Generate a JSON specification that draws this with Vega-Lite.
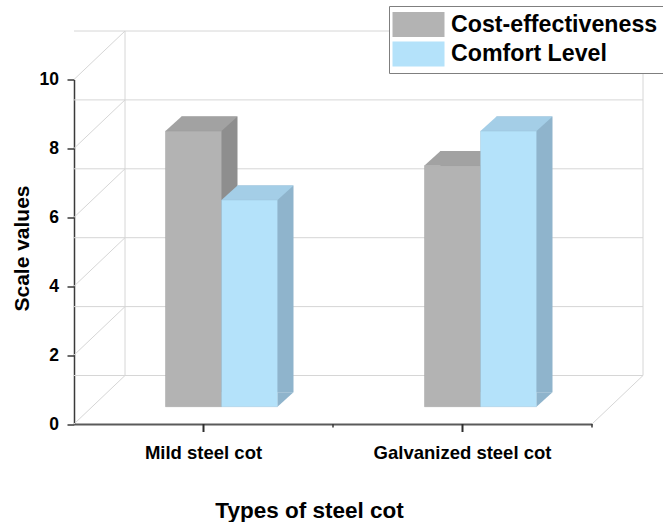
{
  "$schema": "https://vega.github.io/schema/vega-lite/v6.json",
  "width": 518,
  "height": 344.5,
  "autosize": "none",
  "padding": {"left": 74, "top": 79.5, "right": 71, "bottom": 98},
  "background": "white",
  "config": {
    "view": {"stroke": null},
    "font": "Liberation Sans"
  },
  "datasets": {
    "scores": [
      {"cot": "Mild steel cot", "criterion": "Cost-effectiveness", "score": 8},
      {"cot": "Mild steel cot", "criterion": "Comfort Level", "score": 6},
      {"cot": "Galvanized steel cot", "criterion": "Cost-effectiveness", "score": 7},
      {"cot": "Galvanized steel cot", "criterion": "Comfort Level", "score": 8}
    ],
    "levels": [
      {"level": 0}, {"level": 2}, {"level": 4}, {"level": 6}, {"level": 8}, {"level": 10}
    ],
    "anchor": [{}]
  },
  "layer": [
    {
      "description": "back wall grid lines",
      "data": {"name": "levels"},
      "mark": {"type": "rule", "color": "#D6D6D6", "strokeWidth": 1, "xOffset": 51, "x2Offset": 51, "yOffset": -48.5},
      "encoding": {
        "y": {"field": "level", "type": "quantitative"}
      }
    },
    {
      "description": "back wall left edge",
      "data": {"name": "anchor"},
      "mark": {"type": "rule", "color": "#D6D6D6", "strokeWidth": 1, "xOffset": 51, "yOffset": -48.5, "y2Offset": -48.5},
      "encoding": {
        "x": {"datum": "Mild steel cot", "type": "nominal", "bandPosition": 0},
        "y": {"datum": 0, "type": "quantitative"},
        "y2": {"datum": 10}
      }
    },
    {
      "description": "back wall right edge",
      "data": {"name": "anchor"},
      "mark": {"type": "rule", "color": "#D6D6D6", "strokeWidth": 1, "xOffset": 51, "yOffset": -48.5, "y2Offset": -48.5},
      "encoding": {
        "x": {"datum": "Galvanized steel cot", "type": "nominal", "bandPosition": 1},
        "y": {"datum": 0, "type": "quantitative"},
        "y2": {"datum": 10}
      }
    },
    {
      "description": "side wall depth lines",
      "data": {"name": "levels"},
      "mark": {"type": "rule", "color": "#D6D6D6", "strokeWidth": 1, "x2Offset": 51, "y2Offset": -48.5},
      "encoding": {
        "x": {"datum": "Mild steel cot", "type": "nominal", "bandPosition": 0},
        "x2": {"datum": "Mild steel cot", "bandPosition": 0},
        "y": {"field": "level", "type": "quantitative"},
        "y2": {"field": "level"}
      }
    },
    {
      "description": "floor right depth line",
      "data": {"name": "anchor"},
      "mark": {"type": "rule", "color": "#D6D6D6", "strokeWidth": 1, "x2Offset": 51, "y2Offset": -48.5},
      "encoding": {
        "x": {"datum": "Galvanized steel cot", "type": "nominal", "bandPosition": 1},
        "x2": {"datum": "Galvanized steel cot", "bandPosition": 1},
        "y": {"datum": 0, "type": "quantitative"},
        "y2": {"datum": 0}
      }
    },
    {
      "description": "side faces, cost bars (extruded copy behind the front)",
      "data": {"name": "scores"},
      "transform": [{"filter": "datum.criterion === 'Cost-effectiveness'"}],
      "mark": {"type": "bar", "width": 56, "color": "#8E8E8E", "xOffset": 6, "yOffset": -31.8, "y2Offset": -31.8},
      "encoding": {
        "x": {"field": "cot", "type": "nominal"},
        "y": {"field": "score", "type": "quantitative"}
      }
    },
    {
      "description": "side faces, comfort bars",
      "data": {"name": "scores"},
      "transform": [{"filter": "datum.criterion === 'Comfort Level'"}],
      "mark": {"type": "bar", "width": 56, "color": "#8FB4CC", "xOffset": 62, "yOffset": -31.8, "y2Offset": -31.8},
      "encoding": {
        "x": {"field": "cot", "type": "nominal"},
        "y": {"field": "score", "type": "quantitative"}
      }
    },
    {
      "description": "side faces, lower slanted corner, cost bars",
      "data": {"name": "scores"},
      "transform": [{"filter": "datum.criterion === 'Cost-effectiveness'"}],
      "mark": {"type": "point", "shape": "M 28 0 L 28 -14.5 L 44 -14.5 Z", "size": 4, "filled": true, "opacity": 1, "strokeWidth": 0, "color": "#8E8E8E", "xOffset": -10, "yOffset": -17.3},
      "encoding": {
        "x": {"field": "cot", "type": "nominal"},
        "y": {"datum": 0, "type": "quantitative"}
      }
    },
    {
      "description": "side faces, lower slanted corner, comfort bars",
      "data": {"name": "scores"},
      "transform": [{"filter": "datum.criterion === 'Comfort Level'"}],
      "mark": {"type": "point", "shape": "M 28 0 L 28 -14.5 L 44 -14.5 Z", "size": 4, "filled": true, "opacity": 1, "strokeWidth": 0, "color": "#8FB4CC", "xOffset": 46, "yOffset": -17.3},
      "encoding": {
        "x": {"field": "cot", "type": "nominal"},
        "y": {"datum": 0, "type": "quantitative"}
      }
    },
    {
      "description": "top faces, cost bars",
      "data": {"name": "scores"},
      "transform": [{"filter": "datum.criterion === 'Cost-effectiveness'"}],
      "mark": {"type": "point", "shape": "M -28 0 L 28 0 L 44 -14.5 L -12 -14.5 Z", "size": 4, "filled": true, "opacity": 1, "strokeWidth": 0, "color": "#A2A2A2", "xOffset": -10, "yOffset": -17.3},
      "encoding": {
        "x": {"field": "cot", "type": "nominal"},
        "y": {"field": "score", "type": "quantitative"}
      }
    },
    {
      "description": "top faces, comfort bars",
      "data": {"name": "scores"},
      "transform": [{"filter": "datum.criterion === 'Comfort Level'"}],
      "mark": {"type": "point", "shape": "M -28 0 L 28 0 L 44 -14.5 L -12 -14.5 Z", "size": 4, "filled": true, "opacity": 1, "strokeWidth": 0, "color": "#A4CEE7", "xOffset": 46, "yOffset": -17.3},
      "encoding": {
        "x": {"field": "cot", "type": "nominal"},
        "y": {"field": "score", "type": "quantitative"}
      }
    },
    {
      "description": "front faces, cost bars, with the axes and legend",
      "data": {"name": "scores"},
      "transform": [{"filter": "datum.criterion === 'Cost-effectiveness'"}],
      "mark": {"type": "bar", "width": 56, "xOffset": -10, "yOffset": -17.3, "y2Offset": -17.3, "stroke": "#9C9C9C", "strokeWidth": 0.7, "strokeOpacity": 0.6},
      "encoding": {
        "x": {
          "field": "cot", "type": "nominal",
          "scale": {"domain": ["Mild steel cot", "Galvanized steel cot"], "paddingInner": 0, "paddingOuter": 0},
          "axis": {
            "title": "Types of steel cot",
            "titleFont": "Liberation Sans", "titleFontSize": 22.5, "titleFontWeight": "bold", "titleColor": "#000000",
            "titleX": 235, "titleY": 93, "titleBaseline": "alphabetic", "titleAlign": "center",
            "bandPosition": 0.5, "ticks": false,
            "labelAlign": "center", "labelBaseline": "top",
            "labelFont": "Liberation Sans", "labelFontSize": 18.5, "labelFontWeight": "bold", "labelColor": "#000000",
            "labelAngle": 0, "labelPadding": 19,
            "domainColor": "#5A5A5A", "domainWidth": 2, "grid": false
          }
        },
        "y": {
          "field": "score", "type": "quantitative",
          "scale": {"domain": [0, 10], "nice": false},
          "axis": {
            "title": "Scale values",
            "titleFont": "Liberation Sans", "titleFontSize": 21, "titleFontWeight": "bold", "titleColor": "#000000",
            "titleAngle": 270, "titleX": -46, "titleY": 168.5, "titleBaseline": "alphabetic", "titleAlign": "center",
            "values": [0, 1, 2, 3, 4, 5, 6, 7, 8, 9, 10],
            "labelExpr": "datum.value % 2 === 1 ? '' : datum.label",
            "labelFont": "Liberation Sans", "labelFontSize": 17.5, "labelFontWeight": "bold", "labelColor": "#000000",
            "labelPadding": 8.5,
            "domainColor": "#3A3A3A", "domainWidth": 1.5,
            "tickColor": "#3A3A3A", "tickWidth": 1.5,
            "tickSize": {"condition": {"test": "datum.value % 2 === 1", "value": 4}, "value": 7},
            "grid": false
          }
        },
        "color": {
          "field": "criterion", "type": "nominal",
          "scale": {"domain": ["Cost-effectiveness", "Comfort Level"], "range": ["#B3B3B3", "#B4E2FA"]},
          "legend": {
            "orient": "none", "legendX": 315, "legendY": -73.5,
            "title": null,
            "direction": "vertical",
            "strokeColor": "#7F7F7F", "fillColor": "#FFFFFF", "padding": 6,
            "symbolType": "M -2.08 -1 L 2.08 -1 L 2.08 1 L -2.08 1 Z",
            "symbolSize": 625, "symbolOffset": 11, "symbolStrokeWidth": 0, "symbolOpacity": 1,
            "labelFont": "Liberation Sans", "labelFontSize": 23.2, "labelFontWeight": "bold", "labelColor": "#000000",
            "labelOffset": 20, "rowPadding": 4.5, "labelLimit": 400
          }
        }
      }
    },
    {
      "description": "front faces, comfort bars",
      "data": {"name": "scores"},
      "transform": [{"filter": "datum.criterion === 'Comfort Level'"}],
      "mark": {"type": "bar", "width": 56, "xOffset": 46, "yOffset": -17.3, "y2Offset": -17.3, "stroke": "#9CC3D8", "strokeWidth": 0.7, "strokeOpacity": 0.6},
      "encoding": {
        "x": {"field": "cot", "type": "nominal"},
        "y": {"field": "score", "type": "quantitative"},
        "color": {"field": "criterion", "type": "nominal"}
      }
    },
    {
      "description": "major tick under the mild steel cot",
      "data": {"name": "anchor"},
      "mark": {"type": "rule", "color": "#2E2E2E", "strokeWidth": 2, "y2Offset": 8},
      "encoding": {
        "x": {"datum": "Mild steel cot", "type": "nominal", "bandPosition": 0.5},
        "y": {"datum": 0, "type": "quantitative"},
        "y2": {"datum": 0}
      }
    },
    {
      "description": "major tick under the galvanized steel cot",
      "data": {"name": "anchor"},
      "mark": {"type": "rule", "color": "#2E2E2E", "strokeWidth": 2, "y2Offset": 8},
      "encoding": {
        "x": {"datum": "Galvanized steel cot", "type": "nominal", "bandPosition": 0.5},
        "y": {"datum": 0, "type": "quantitative"},
        "y2": {"datum": 0}
      }
    },
    {
      "description": "minor tick between the categories",
      "data": {"name": "anchor"},
      "mark": {"type": "rule", "color": "#3A3A3A", "strokeWidth": 1.5, "y2Offset": 3.5},
      "encoding": {
        "x": {"datum": "Galvanized steel cot", "type": "nominal", "bandPosition": 0},
        "y": {"datum": 0, "type": "quantitative"},
        "y2": {"datum": 0}
      }
    },
    {
      "description": "minor tick at the axis end",
      "data": {"name": "anchor"},
      "mark": {"type": "rule", "color": "#3A3A3A", "strokeWidth": 1.5, "y2Offset": 3.5},
      "encoding": {
        "x": {"datum": "Galvanized steel cot", "type": "nominal", "bandPosition": 1},
        "y": {"datum": 0, "type": "quantitative"},
        "y2": {"datum": 0}
      }
    }
  ]
}
